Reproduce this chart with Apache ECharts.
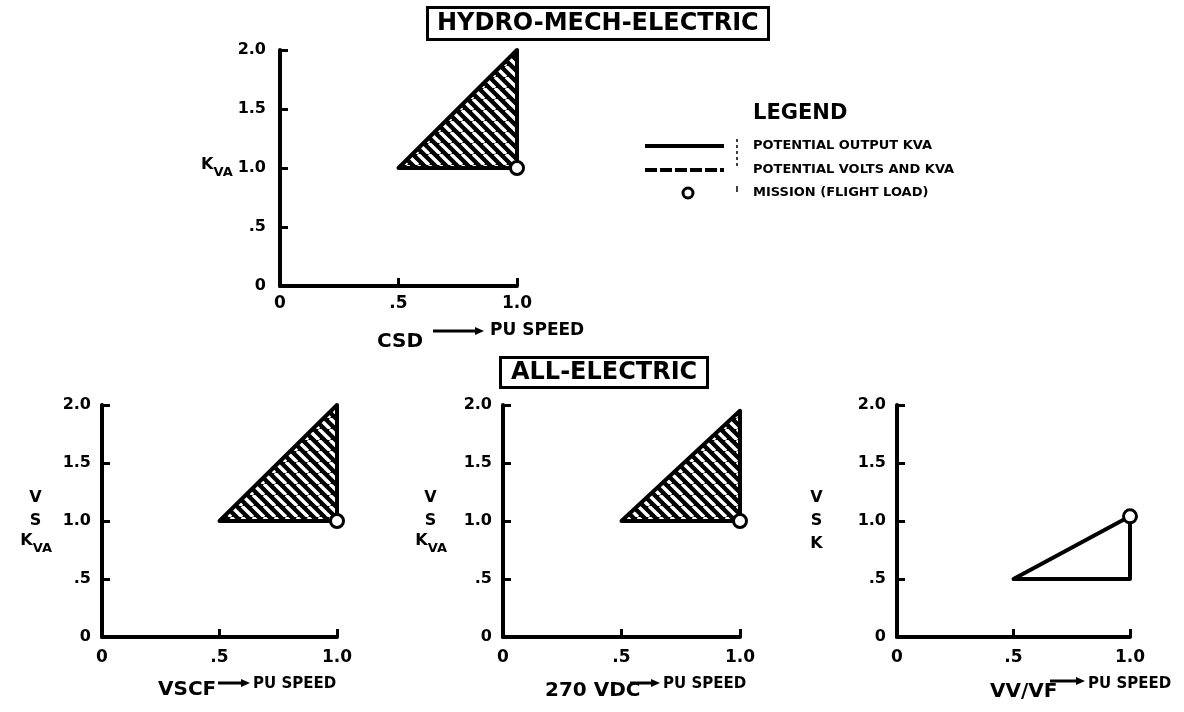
<!DOCTYPE html>
<html>
<head>
<meta charset="utf-8">
<script src="https://cdn.jsdelivr.net/npm/echarts@6/dist/echarts.min.js"></script>
<style>
html,body{margin:0;padding:0;background:#fff;}
#chart{width:1184px;height:712px;}
</style>
</head>
<body>
<div id="chart"></div>
<script>
// ---- data ----
const xTickValues = [0, 0.5, 1.0];
const yTickValues = [0, 0.5, 1.0, 1.5, 2.0];
const panelTitles = ['CSD', 'VSCF', '270 VDC', 'VV/VF'];
const csdRegion  = [[0.5, 1.0], [1.0, 2.0], [1.0, 1.0]];
const vscfRegion = [[0.5, 1.0], [1.0, 2.0], [1.0, 1.0]];
const vdcRegion  = [[0.5, 1.0], [1.0, 1.95], [1.0, 1.0]];
const vvvfRegion = [[0.5, 0.5], [1.0, 1.04], [1.0, 0.5]];
const csdMission  = [[1.0, 1.0]];
const vscfMission = [[1.0, 1.0]];
const vdcMission  = [[1.0, 1.0]];
const vvvfMission = [[1.0, 1.04]];
const legendLabels = ['POTENTIAL OUTPUT KVA', 'POTENTIAL VOLTS AND KVA', 'MISSION (FLIGHT LOAD)'];

const regions = [csdRegion, vscfRegion, vdcRegion, vvvfRegion];
const missions = [csdMission, vscfMission, vdcMission, vvvfMission];
const hatched = [true, true, true, false];

const FONT = 'DejaVu Sans';

function hatchCanvas() {
  const s = 11;
  const c = document.createElement('canvas');
  c.width = s; c.height = s;
  const g = c.getContext('2d');
  g.fillStyle = '#000';
  g.fillRect(0, 0, s, s);
  g.strokeStyle = '#fff';
  g.lineWidth = 3.4;
  g.beginPath();
  for (let k = -1; k <= 1; k++) {
    g.moveTo(k * s, 0);
    g.lineTo(k * s + s, s);
  }
  g.stroke();
  return c;
}
const hatchPattern = { image: hatchCanvas(), repeat: 'repeat' };

function fmt(v) {
  if (v === 0) return '0';
  if (v < 1) return String(v).replace(/^0/, '');
  return v.toFixed(1);
}

const grids = [
  { left: 280, top: 50, width: 237, height: 236 },
  { left: 102, top: 405, width: 235, height: 232 },
  { left: 503, top: 405, width: 237, height: 232 },
  { left: 897, top: 405, width: 233, height: 232 }
];

const yNames = [
  '{k|K}{s|VA}',
  '{c|V}\n{c|S}\n{k|K}{s|VA}',
  '{c|V}\n{c|S}\n{k|K}{s|VA}',
  '{c|V}\n{c|S}\n{c|K}'
];
const yNameGaps = [34, 50, 56, 64];
const xLabelMargins = [9, 12, 12, 12];
const yLabelMargins = [14, 11, 11, 11];

const axisColor = '#000';
const richName = {
  k: { fontFamily: FONT, fontWeight: 'bold', fontSize: 16, color: '#000', verticalAlign: 'top', lineHeight: 23 },
  s: { fontFamily: FONT, fontWeight: 'bold', fontSize: 13, color: '#000', verticalAlign: 'bottom', lineHeight: 23, padding: [6, 0, 0, 0] },
  c: { fontFamily: FONT, fontWeight: 'bold', fontSize: 16, color: '#000', width: 33, align: 'center', lineHeight: 23 }
};

const xAxes = grids.map((g, i) => ({
  type: 'value', gridIndex: i, min: 0, max: 1, interval: 0.5,
  axisLine: { show: true, onZero: false, lineStyle: { color: axisColor, width: 4 } },
  axisTick: { show: true, inside: true, length: 8, lineStyle: { color: axisColor, width: 3 } },
  splitLine: { show: false },
  axisLabel: { formatter: fmt, color: '#000', fontFamily: FONT, fontWeight: 'bold', fontSize: 17, margin: xLabelMargins[i] }
}));
const yAxes = grids.map((g, i) => ({
  type: 'value', gridIndex: i, min: 0, max: 2, interval: 0.5,
  name: yNames[i], nameLocation: 'middle', nameRotate: 0, nameGap: yNameGaps[i],
  nameTextStyle: { rich: richName },
  axisLine: { show: true, onZero: false, lineStyle: { color: axisColor, width: 4 } },
  axisTick: { show: true, inside: true, length: 8, lineStyle: { color: axisColor, width: 3 } },
  splitLine: { show: false },
  axisLabel: { formatter: fmt, color: '#000', fontFamily: FONT, fontWeight: 'bold', fontSize: 16, margin: yLabelMargins[i] }
}));

const series = [];
regions.forEach((reg, i) => {
  series.push({
    type: 'custom', name: legendLabels[0], xAxisIndex: i, yAxisIndex: i,
    data: reg, silent: true, z: 2,
    renderItem: function (params, api) {
      if (params.dataIndex !== 0) return null;
      const pts = reg.map(p => api.coord(p));
      return {
        type: 'polygon',
        shape: { points: pts },
        style: { fill: hatched[i] ? hatchPattern : 'none', stroke: '#000', lineWidth: 4, lineJoin: 'round' }
      };
    }
  });
  series.push({
    type: 'scatter', name: legendLabels[2], xAxisIndex: i, yAxisIndex: i,
    data: missions[i], symbol: 'circle', symbolSize: 13, z: 5,
    itemStyle: { color: '#fff', borderColor: '#000', borderWidth: 3, opacity: 1 }
  });
});

// x-axis caption helpers (label + arrow + "PU SPEED")
function arrow(x1, x2, y) {
  return [
    { type: 'line', shape: { x1: x1, y1: y, x2: x2 - 6, y2: y }, style: { stroke: '#000', lineWidth: 3 } },
    { type: 'polygon', shape: { points: [[x2, y], [x2 - 9, y - 4], [x2 - 9, y + 4]] }, style: { fill: '#000' } }
  ];
}
function txt(x, y, s, size, align) {
  return { type: 'text', x: x, y: y, style: { text: s, fill: '#000', font: 'bold ' + size + 'px "' + FONT + '"', textAlign: align || 'left', textVerticalAlign: 'middle' } };
}

const graphics = [];
// top panel caption
graphics.push(txt(377, 342, panelTitles[0], 20));
graphics.push(...arrow(433, 484, 331));
graphics.push(txt(490, 331, 'PU SPEED', 17));
// VSCF caption
graphics.push(txt(158, 690, panelTitles[1], 20));
graphics.push(...arrow(218, 250, 683));
graphics.push(txt(253, 684, 'PU SPEED', 15));
// 270 VDC caption
graphics.push(txt(545, 691, panelTitles[2], 20));
graphics.push(...arrow(630, 660, 683));
graphics.push(txt(663, 684, 'PU SPEED', 15));
// VV/VF caption
graphics.push(txt(990, 692, panelTitles[3], 20));
graphics.push(...arrow(1050, 1085, 681));
graphics.push(txt(1088, 684, 'PU SPEED', 15));

// legend
const legRows = [146, 170, 193];
graphics.push(txt(753, 114, 'LEGEND', 21));
graphics.push({ type: 'line', shape: { x1: 645, y1: legRows[0], x2: 724, y2: legRows[0] }, style: { stroke: '#000', lineWidth: 4 } });
graphics.push({ type: 'line', shape: { x1: 645, y1: legRows[1], x2: 724, y2: legRows[1] }, style: { stroke: '#000', lineWidth: 4, lineDash: [12, 3] } });
graphics.push({ type: 'circle', shape: { cx: 688, cy: legRows[2], r: 5 }, style: { fill: '#fff', stroke: '#000', lineWidth: 3 } });
graphics.push({ type: 'line', shape: { x1: 737, y1: legRows[0] - 7, x2: 737, y2: legRows[1] - 4 }, style: { stroke: '#000', lineWidth: 1.5, lineDash: [3, 3] } });
graphics.push({ type: 'line', shape: { x1: 737, y1: legRows[2] - 7, x2: 737, y2: legRows[2] - 1 }, style: { stroke: '#000', lineWidth: 1.5 } });
legendLabels.forEach((l, i) => graphics.push(txt(753, legRows[i], l, 13)));

const option = {
  backgroundColor: '#fff',
  animation: false,
  title: [
    { text: 'HYDRO-MECH-ELECTRIC', left: 427, top: 7, padding: [5, 10, 4, 10], borderColor: '#000', borderWidth: 3,
      textStyle: { fontFamily: FONT, fontWeight: 'bold', fontSize: 24, color: '#000' } },
    { text: 'ALL-ELECTRIC', left: 500, top: 357, padding: [4, 11, 3, 11], borderColor: '#000', borderWidth: 3,
      textStyle: { fontFamily: FONT, fontWeight: 'bold', fontSize: 24, color: '#000' } }
  ],
  grid: grids,
  xAxis: xAxes,
  yAxis: yAxes,
  series: series,
  graphic: graphics
};

const chart = echarts.init(document.getElementById('chart'), null, { renderer: 'canvas' });
chart.setOption(option);
</script>
</body>
</html>
